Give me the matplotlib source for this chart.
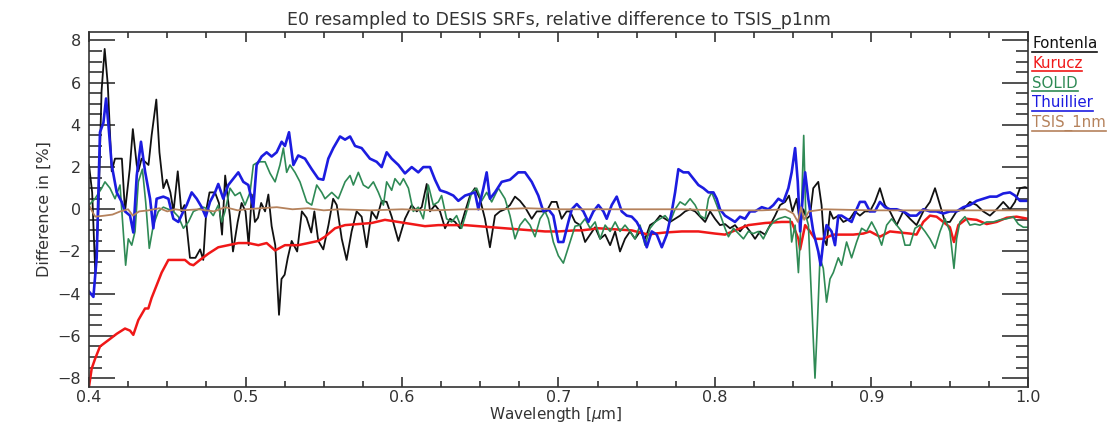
import matplotlib
matplotlib.use("Agg")
import matplotlib.pyplot as plt
from matplotlib.lines import Line2D
from matplotlib.ticker import MultipleLocator

# ---------------------------------------------------------------------------
# Relative difference [%] of each solar spectrum vs TSIS, resampled to DESIS
# ---------------------------------------------------------------------------
fontenla_wl = [
    0.400, 0.402, 0.404, 0.406, 0.408, 0.410, 0.412, 0.4145, 0.4166, 0.421,
    0.423, 0.426, 0.428, 0.4305, 0.4315, 0.4336, 0.438, 0.440, 0.443, 0.445,
    0.4475, 0.4496, 0.452, 0.454, 0.4567, 0.459, 0.461, 0.4645, 0.468, 0.471,
    0.473, 0.475, 0.477, 0.4805, 0.483, 0.485, 0.487, 0.490, 0.492, 0.495,
    0.4975, 0.500, 0.502, 0.504, 0.506, 0.508, 0.510, 0.5125, 0.5146, 0.5167,
    0.519, 0.5206, 0.5214, 0.523, 0.525, 0.527, 0.5295, 0.533, 0.536, 0.539,
    0.542, 0.544, 0.5465, 0.5497, 0.553, 0.556, 0.5583, 0.5615, 0.5646, 0.5678,
    0.571, 0.5742, 0.5774, 0.5806, 0.5838, 0.587, 0.5902, 0.5934, 0.5977, 0.6019,
    0.6062, 0.6094, 0.6126, 0.6158, 0.6179, 0.6211, 0.6243, 0.6275, 0.6307, 0.6339,
    0.6371, 0.6403, 0.6435, 0.6466, 0.6498, 0.653, 0.6562, 0.6594, 0.6626, 0.6658,
    0.669, 0.6722, 0.6754, 0.6786, 0.6829, 0.6861, 0.6924, 0.6956, 0.6988, 0.702,
    0.7052, 0.7074, 0.7106, 0.7138, 0.717, 0.7202, 0.7234, 0.7266, 0.7298, 0.733,
    0.7362, 0.7393, 0.7425, 0.7457, 0.7489, 0.7521, 0.7553, 0.7585, 0.7617, 0.7649,
    0.7681, 0.7713, 0.7745, 0.7777, 0.7809, 0.7841, 0.7873, 0.7905, 0.7937, 0.7969,
    0.800, 0.8032, 0.8064, 0.8096, 0.8128, 0.816, 0.8192, 0.8224, 0.8256, 0.8288,
    0.832, 0.8352, 0.8384, 0.8416, 0.8448, 0.8473, 0.8495, 0.8522, 0.8544, 0.8565,
    0.8586, 0.8607, 0.8628, 0.866, 0.8681, 0.8696, 0.8713, 0.8735, 0.8756, 0.8788,
    0.882, 0.8862, 0.8894, 0.8926, 0.8958, 0.899, 0.9022, 0.9054, 0.9086, 0.9118,
    0.9161, 0.9203, 0.9246, 0.9288, 0.9331, 0.9374, 0.9406, 0.9438, 0.947, 0.9501,
    0.9544, 0.9587, 0.9629, 0.9672, 0.9714, 0.9757, 0.980, 0.9842, 0.9885, 0.9917,
    0.9949, 0.9981, 1.000,
]
fontenla_diff = [
    2.1, 0.8, -3.0, -0.1, 5.6, 7.6, 5.9, 1.8, 2.4, 2.4,
    -0.1, 1.9, 3.8, 2.1, 1.8, 2.4, 2.1, 3.5, 5.2, 2.7,
    1.0, 1.4, 0.8, -0.1, 1.8, -0.1, 0.2, -2.3, -2.3, -1.9,
    -2.4, 0.0, 0.8, 0.8, 0.3, -1.2, 1.6, -0.3, -2.0, -0.6,
    0.3, -0.1, -1.7, 0.7, -0.6, -0.4, 0.3, -0.1, 0.7, -0.8,
    -1.7, -3.9, -5.0, -3.3, -3.1, -2.3, -1.5, -2.0, -0.1, -0.4,
    -1.1, -0.1, -1.5, -1.9, -0.75, 0.5, 0.2, -1.4, -2.4, -1.05,
    -0.1, -0.35, -1.8, -0.1, -0.45, 0.4, 0.35, -0.35, -1.5, -0.45,
    0.2, -0.1, 0.1, 1.2, -0.1, 0.2, -0.1, -0.9, -0.45, -0.6,
    -0.9, -0.1, 0.65, 1.0, 0.5, -0.45, -1.8, -0.3, -0.1, 0.0,
    0.2, 0.6, 0.4, 0.1, -0.45, -0.1, -0.1, 0.35, 0.35, -0.45,
    -0.1, -0.1, -0.6, -0.75, -1.55, -1.2, -0.85, -1.4, -1.2, -1.7,
    -1.05, -2.0, -1.4, -1.05, -1.4, -1.05, -1.4, -0.75, -0.6, -0.3,
    -0.45, -0.6, -0.45, -0.3, -0.1, 0.0, -0.1, -0.35, -0.6, -0.1,
    -0.45, -0.75, -0.7, -0.9, -0.75, -1.05, -0.75, -1.05, -1.4, -1.05,
    -1.2, -0.75, -0.3, 0.2, 0.35, 0.65, -0.1, 0.5, -0.75, 0.0,
    -0.45, -0.3, 1.0, 1.3, 0.2, -1.4, -1.7, -0.1, -0.45, -0.3,
    -0.6, -0.45, -0.1, -0.3, -0.1, -0.1, 0.35, 1.0, 0.2, -0.1,
    -0.75, -0.1, -0.45, -0.75, -0.1, 0.35, 1.0, 0.2, -0.6, -0.6,
    -0.1, 0.0, 0.35, 0.2, -0.1, -0.3, 0.0, 0.35, 0.0, 0.35,
    1.0, 1.05, 1.0,
]

kurucz_wl = [
    0.400, 0.4017, 0.4038, 0.407, 0.4124, 0.4177, 0.423, 0.4262, 0.4283, 0.4315,
    0.4358, 0.4379, 0.440, 0.4432, 0.4464, 0.4507, 0.455, 0.4613, 0.4645, 0.4667,
    0.4709, 0.4763, 0.4826, 0.489, 0.4954, 0.5018, 0.5082, 0.5135, 0.5189, 0.5252,
    0.5337, 0.5401, 0.5465, 0.5508, 0.5572, 0.5636, 0.5721, 0.5806, 0.5891, 0.5977,
    0.6062, 0.6147, 0.6232, 0.6317, 0.6403, 0.6488, 0.6573, 0.6658, 0.6743, 0.6829,
    0.6914, 0.6999, 0.7106, 0.7148, 0.7255, 0.7362, 0.7468, 0.7574, 0.7617, 0.7681,
    0.7788, 0.7894, 0.800, 0.8064, 0.8128, 0.8213, 0.832, 0.8426, 0.849, 0.8533,
    0.8544, 0.8576, 0.8607, 0.8639, 0.8692, 0.8756, 0.882, 0.8884, 0.8948, 0.899,
    0.9054, 0.9118, 0.9182, 0.9246, 0.9288, 0.9331, 0.9374, 0.9416, 0.9459, 0.9501,
    0.9527, 0.9555, 0.9608, 0.9672, 0.9736, 0.980, 0.9864, 0.9927, 1.000,
]
kurucz_diff = [
    -8.4, -7.55, -7.1, -6.5, -6.2, -5.9, -5.65, -5.75, -5.95, -5.25,
    -4.7, -4.7, -4.2, -3.6, -3.0, -2.4, -2.4, -2.4, -2.6, -2.65,
    -2.4, -2.1, -1.8, -1.7, -1.6, -1.6, -1.7, -1.6, -1.95, -1.7,
    -1.7, -1.6, -1.5, -1.3, -0.9, -0.75, -0.7, -0.65, -0.5, -0.6,
    -0.7, -0.8, -0.75, -0.75, -0.75, -0.8, -0.85, -0.9, -0.95, -1.0,
    -1.05, -1.05, -1.0, -1.0, -0.9, -0.95, -1.0, -1.2, -1.15, -1.1,
    -1.05, -1.05, -1.15, -1.2, -1.0, -0.75, -0.65, -0.6, -0.6, -1.4,
    -1.9, -0.75, -1.05, -1.4, -1.4, -1.2, -1.2, -1.2, -1.15, -1.05,
    -1.3, -1.05, -1.1, -1.15, -1.2, -0.6, -0.3, -0.35, -0.6, -0.85,
    -1.55, -0.75, -0.45, -0.5, -0.7, -0.6, -0.4, -0.35, -0.45,
]

solid_wl = [
    0.400, 0.4038, 0.4081, 0.4102, 0.4134, 0.4166, 0.4198, 0.4219, 0.4234, 0.4251,
    0.4273, 0.4294, 0.4315, 0.4341, 0.4362, 0.4385, 0.4411, 0.4443, 0.4475, 0.4507,
    0.4539, 0.4571, 0.4603, 0.4635, 0.4667, 0.4699, 0.4731, 0.4763, 0.4794, 0.4826,
    0.4848, 0.4869, 0.4901, 0.4933, 0.4965, 0.4997, 0.5029, 0.505, 0.5082, 0.5125,
    0.5157, 0.5189, 0.522, 0.5242, 0.5263, 0.5284, 0.5316, 0.5348, 0.5391, 0.5423,
    0.5455, 0.5487, 0.5508, 0.5551, 0.5593, 0.5636, 0.5668, 0.5689, 0.5721, 0.5753,
    0.5785, 0.5817, 0.5849, 0.5881, 0.5902, 0.5934, 0.5955, 0.5987, 0.6009, 0.6041,
    0.6072, 0.6104, 0.6136, 0.6168, 0.620, 0.6232, 0.6253, 0.6285, 0.6317, 0.6349,
    0.6381, 0.6413, 0.6445, 0.6477, 0.6509, 0.6541, 0.6573, 0.6616, 0.6658, 0.669,
    0.6722, 0.6754, 0.6786, 0.6818, 0.685, 0.6882, 0.6914, 0.6935, 0.6967, 0.6999,
    0.7031, 0.7074, 0.7106, 0.7138, 0.717, 0.7202, 0.7234, 0.7266, 0.7298, 0.733,
    0.7362, 0.7393, 0.7425, 0.7457, 0.7489, 0.7521, 0.7553, 0.7585, 0.7617, 0.7649,
    0.7681, 0.7713, 0.7745, 0.7777, 0.7809, 0.7841, 0.7873, 0.7905, 0.7937, 0.7958,
    0.7979, 0.8011, 0.8043, 0.8064, 0.8086, 0.8118, 0.815, 0.8182, 0.8213, 0.8245,
    0.8277, 0.8309, 0.8341, 0.8373, 0.8405, 0.8448, 0.848, 0.849, 0.8512, 0.8533,
    0.855, 0.8567, 0.858, 0.8597, 0.861, 0.8624, 0.8639, 0.8654, 0.8671, 0.8692,
    0.8713, 0.8735, 0.8756, 0.8788, 0.8809, 0.8841, 0.8873, 0.8905, 0.8937, 0.8969,
    0.9001, 0.9033, 0.9065, 0.9097, 0.9129, 0.9161, 0.9193, 0.9214, 0.9246, 0.9278,
    0.931, 0.9342, 0.9374, 0.9406, 0.9438, 0.947, 0.9501, 0.9527, 0.9544, 0.9565,
    0.9597, 0.9629, 0.9661, 0.9693, 0.9736, 0.9778, 0.9821, 0.9864, 0.9906, 0.9938,
    0.997, 1.000,
]
solid_diff = [
    0.2, 0.5, 1.0, 1.3, 1.0, 0.5, 1.15, -1.05, -2.65, -1.4,
    -1.7, -1.05, 1.3, 1.9, 0.35, -1.85, -0.75, -0.1, 0.1, 0.0,
    -0.1, -0.35, -0.9, -0.6, -0.1, 0.0, 0.1, 0.0, -0.3, 0.2,
    -0.6, -0.1, 1.0, 0.65, 0.8, 0.2, 0.8, 2.1, 2.25, 2.25,
    1.7, 1.3, 2.1, 2.9, 1.75, 2.1, 1.75, 1.3, 0.35, 0.2,
    1.15, 0.8, 0.5, 0.8, 0.5, 1.3, 1.6, 1.15, 1.75, 1.15,
    1.0, 1.3, 0.8, 0.2, 1.3, 0.9, 1.45, 1.15, 1.45, 1.0,
    -0.1, 0.1, -0.45, 1.15, 0.2, 0.35, 0.65, -0.45, -0.6, -0.3,
    -0.9, -0.1, 0.8, 1.0, 0.4, 0.8, 0.35, 1.0, 0.5, -0.3,
    -1.4, -0.75, -0.45, -0.75, -1.3, -0.45, -0.1, -0.45, -1.55, -2.2,
    -2.55, -1.55, -0.8, -0.75, -0.45, -0.9, -0.6, -1.4, -0.75, -1.05,
    -0.6, -1.05, -0.75, -1.05, -1.4, -0.75, -1.7, -0.9, -0.6, -0.45,
    -0.3, -0.6, 0.0, 0.35, 0.2, 0.5, 0.2, -0.3, -0.45, 0.5,
    0.8, 0.2, -0.45, -0.9, -1.3, -0.9, -1.15, -1.4, -1.05, -1.15,
    -1.05, -1.4, -0.9, -0.6, -0.45, -0.35, -0.45, -1.55, -0.75, -3.0,
    -0.6, 3.5, -0.3, -0.75, -3.1, -5.5, -8.0, -5.5, -2.3, -2.8,
    -4.4, -3.3, -3.0, -2.3, -2.65, -1.55, -2.3, -1.55, -0.9, -1.05,
    -0.6, -1.05, -1.7, -0.75, -0.45, -0.75, -1.05, -1.7, -1.7, -0.9,
    -0.75, -1.05, -1.4, -1.85, -1.05, -0.45, -1.05, -2.8, -1.4, -0.6,
    -0.35, -0.75, -0.7, -0.75, -0.6, -0.6, -0.5, -0.45, -0.35, -0.7,
    -0.85, -0.85,
]

thuillier_wl = [
    0.400, 0.4028, 0.4049, 0.407, 0.4092, 0.4109, 0.4124, 0.4145, 0.4177, 0.4209,
    0.423, 0.4262, 0.4283, 0.4305, 0.4332, 0.4358, 0.439, 0.4411, 0.4432, 0.4475,
    0.4507, 0.4539, 0.4571, 0.4603, 0.4624, 0.4656, 0.4688, 0.472, 0.4746, 0.4773,
    0.4805, 0.4826, 0.4858, 0.489, 0.4922, 0.4954, 0.4986, 0.5018, 0.505, 0.5071,
    0.5103, 0.5135, 0.5167, 0.5199, 0.5231, 0.5252, 0.5278, 0.5306, 0.5337, 0.538,
    0.5423, 0.5465, 0.5497, 0.5529, 0.5561, 0.5604, 0.5636, 0.5668, 0.570, 0.5742,
    0.5795, 0.5838, 0.587, 0.5902, 0.5934, 0.5977, 0.6019, 0.6062, 0.6104, 0.6136,
    0.6179, 0.6211, 0.6243, 0.6285, 0.6328, 0.636, 0.6403, 0.6445, 0.6466, 0.6488,
    0.652, 0.6541, 0.6562, 0.6594, 0.6637, 0.669, 0.6743, 0.6786, 0.6829, 0.6871,
    0.6903, 0.6935, 0.6967, 0.6999, 0.7031, 0.7063, 0.7085, 0.7117, 0.7159, 0.7191,
    0.7223, 0.7255, 0.7287, 0.7308, 0.734, 0.7372, 0.7404, 0.7436, 0.7468, 0.750,
    0.7532, 0.7564, 0.7596, 0.7628, 0.766, 0.7692, 0.7724, 0.7745, 0.7766, 0.7798,
    0.783, 0.7862, 0.7894, 0.7926, 0.7958, 0.799, 0.8011, 0.8032, 0.8064, 0.8096,
    0.8128, 0.816, 0.8192, 0.8224, 0.8256, 0.8299, 0.8341, 0.8373, 0.8405, 0.8437,
    0.8469, 0.849, 0.8512, 0.8529, 0.8544, 0.8565, 0.8576, 0.8596, 0.8628, 0.866,
    0.8675, 0.8692, 0.8713, 0.8745, 0.8767, 0.8788, 0.8809, 0.8841, 0.8873, 0.8905,
    0.8926, 0.8958, 0.899, 0.9022, 0.9054, 0.9086, 0.9118, 0.9161, 0.9203, 0.9246,
    0.9288, 0.9331, 0.9374, 0.9416, 0.9459, 0.9501, 0.9544, 0.9587, 0.9629, 0.9672,
    0.9714, 0.9757, 0.980, 0.9842, 0.9885, 0.9917, 0.9949, 1.000,
]
thuillier_diff = [
    -3.9, -4.15, -2.3, 3.65, 4.1, 5.25, 4.0, 2.1, 0.8, 0.35,
    -0.1, -0.3, -1.1, 1.6, 3.2, 1.8, 0.5, -0.9, 0.5, 0.6,
    0.5, -0.45, -0.6, -0.1, 0.2, 0.8, 0.5, 0.1, -0.35, 0.35,
    0.8, 1.2, 0.5, 1.15, 1.45, 1.75, 1.3, 1.15, 0.1, 2.1,
    2.5, 2.7, 2.5, 2.7, 3.2, 3.0, 3.65, 2.1, 2.55, 2.4,
    1.9, 1.45, 1.4, 2.4, 2.9, 3.45, 3.3, 3.45, 3.0, 2.9,
    2.4, 2.25, 2.0, 2.7, 2.4, 2.1, 1.7, 2.0, 1.75, 2.0,
    2.0, 1.4, 0.9, 0.8, 0.65, 0.4, 0.65, 0.75, 0.8, 0.0,
    1.0, 1.75, 0.5, 0.8, 1.3, 1.4, 1.75, 1.75, 1.3, 0.65,
    -0.1, 0.0, -0.3, -1.55, -1.55, -0.6, 0.0, 0.25, -0.1, -0.6,
    -0.1, 0.2, -0.1, -0.45, 0.2, 0.6, -0.1, -0.3, -0.35, -0.6,
    -1.05, -1.8, -1.05, -1.2, -1.8, -1.2, -0.1, 0.8, 1.9, 1.75,
    1.75, 1.45, 1.15, 1.0, 0.8, 0.8, 0.5, 0.0, -0.3, -0.45,
    -0.6, -0.35, -0.45, -0.1, -0.1, 0.1, 0.0, 0.2, 0.5, 0.35,
    1.0, 1.75, 2.9, 1.3, -1.05, 1.0, 1.75, 0.5, -1.05, -2.0,
    -2.65, -1.55, -0.75, -1.05, -1.7, -0.3, -0.3, -0.45, -0.6, 0.0,
    0.35, 0.35, -0.1, -0.1, 0.35, 0.1, 0.0, 0.0, -0.1, -0.3,
    -0.3, 0.0, -0.1, -0.1, -0.2, -0.1, -0.1, 0.1, 0.2, 0.4,
    0.5, 0.6, 0.6, 0.75, 0.8, 0.65, 0.4, 0.4,
]

tsis_wl = [
    0.400, 0.402, 0.404, 0.410, 0.415, 0.420, 0.425, 0.428, 0.432, 0.438,
    0.445, 0.450, 0.455, 0.460, 0.470, 0.480, 0.487, 0.495, 0.500, 0.510,
    0.520, 0.530, 0.540, 0.550, 0.560, 0.580, 0.600, 0.620, 0.640, 0.660,
    0.680, 0.700, 0.720, 0.750, 0.780, 0.800, 0.830, 0.845, 0.850, 0.853,
    0.855, 0.857, 0.860, 0.870, 0.900, 0.950, 1.000,
]
tsis_diff = [
    0.2, -0.1, -0.35, -0.3, -0.25, -0.1, 0.0, -0.3, -0.1, -0.05,
    0.05, -0.1, 0.0, -0.05, 0.0, -0.1, 0.1, -0.05, 0.0, 0.05,
    0.1, 0.0, 0.05, -0.05, 0.0, -0.05, 0.0, -0.05, 0.0, 0.0,
    0.05, 0.0, 0.0, 0.0, 0.0, -0.05, -0.05, 0.0, -0.2, -0.6,
    0.1, -0.5, -0.1, 0.0, -0.05, -0.05, -0.05,
]

names = ["Fontenla", "Kurucz", "SOLID", "Thuillier", "TSIS_1nm"]
colors = ["#111111", "#f01818", "#2f8a55", "#1c1ce0", "#b5825c"]
widths = [1.3, 1.8, 1.2, 1.9, 1.3]
wls = [fontenla_wl, kurucz_wl, solid_wl, thuillier_wl, tsis_wl]
diffs = [fontenla_diff, kurucz_diff, solid_diff, thuillier_diff, tsis_diff]

TXT = "#333333"
plt.rcParams["font.family"] = ["DejaVu Sans"]

fig = plt.figure(figsize=(11.1, 4.24), dpi=100)
W, H = fig.get_size_inches() * fig.dpi
ax = fig.add_axes([0.0802, 0.0873, 0.8459, 0.8372])

for wl, d, c, lw in zip(wls, diffs, colors, widths):
    ax.plot(wl, d, color=c, linewidth=lw)

ax.set_xlim(0.4, 1.0)
ax.set_ylim(-8.42, 8.4)

ax.xaxis.set_major_locator(MultipleLocator(0.1))
ax.xaxis.set_minor_locator(MultipleLocator(0.025))
ax.yaxis.set_major_locator(MultipleLocator(2))
ax.yaxis.set_minor_locator(MultipleLocator(0.5))
ax.xaxis.set_major_formatter(plt.FuncFormatter(lambda v, p: f"{v:.1f}"))

ax.tick_params(axis="x", which="major", direction="in", length=7, width=1.2,
               top=True, bottom=True, colors=TXT, labelsize=11.5, pad=2)
ax.tick_params(axis="x", which="minor", direction="in", length=4, width=1.2,
               top=True, bottom=True, colors=TXT)
ax.tick_params(axis="y", which="major", direction="in", length=19, width=1.2,
               left=True, right=True, colors=TXT, labelsize=11.5, pad=6)
ax.tick_params(axis="y", which="minor", direction="in", length=9, width=1.2,
               left=True, right=True, colors=TXT)
for sp in ax.spines.values():
    sp.set_color(TXT)
    sp.set_linewidth(1.2)

ax.set_title("E0 resampled to DESIS SRFs, relative difference to TSIS_p1nm",
             fontsize=12.5, color=TXT, pad=5)
ax.set_ylabel("Difference in [%]", fontsize=11.5, color=TXT, labelpad=4)
# x label sits tight under the tick labels, as in IDL output
fig.text(556 / W, 1 - 414.5 / H, r"Wavelength [$\mu$m]", fontsize=11,
         color=TXT, ha="center", va="center")

# legend as coloured, underlined labels right of the frame
labels = []
for i, (name, c) in enumerate(zip(names, colors)):
    t = fig.text(1032 / W, 1 - (48 + 19.8 * i) / H, name, color=c,
                 fontsize=10.8, va="baseline", ha="left")
    labels.append(t)

fig.canvas.draw()
renderer = fig.canvas.get_renderer()
for i, (t, c) in enumerate(zip(labels, colors)):
    bb = t.get_window_extent(renderer)
    yline = (H - (48 + 19.8 * i) - 3.5) / H
    fig.add_artist(Line2D([bb.x0 / W, bb.x1 / W], [yline, yline],
                          transform=fig.transFigure, color=c, linewidth=1.2))

fig.savefig("out.png", dpi=100)
